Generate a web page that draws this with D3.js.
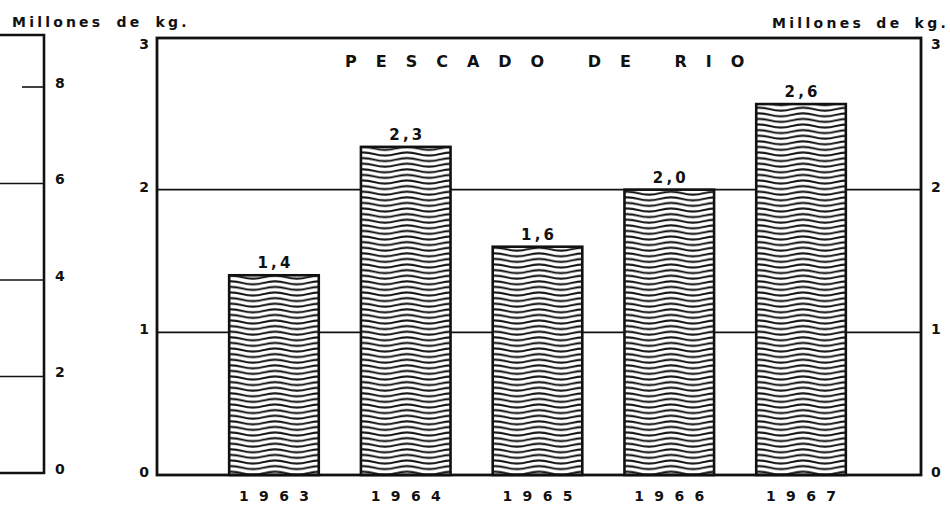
<!DOCTYPE html>
<html>
<head>
<meta charset="utf-8">
<script src="https://cdn.jsdelivr.net/npm/d3@7/dist/d3.min.js"></script>
<style>
  body { margin: 0; background: #fff; }
  svg { display: block; }
  text { font-family: "DejaVu Sans", sans-serif; font-weight: bold; fill: #111; }
</style>
</head>
<body>
<svg id="chart" width="950" height="509"></svg>
<script>
// data
const years = ['1963', '1964', '1965', '1966', '1967'];
const values = [1.4, 2.3, 1.6, 2.0, 2.6];
const valueLabels = ['1,4', '2,3', '1,6', '2,0', '2,6'];
const yTicks = [0, 1, 2, 3];
const gridTicks = [1, 2];
// bit of the previous chart cut off at the left edge
const prevTicks = [0, 2, 4, 6, 8];
const prevGrid = [2, 4, 6, 8];
const title = 'PESCADO DE RIO';
const unitLabel = 'Millones de kg.';

const frame = {left: 157, right: 921, top: 38, bottom: 475};
const ink = '#111';

const svg = d3.select('#chart');

const x = d3.scaleBand()
  .domain(years)
  .range([187, 888])
  .padding(0.32);

const y = d3.scaleLinear()
  .domain([0, 3])
  .range([frame.bottom, 47]);

const yPrev = d3.scaleLinear()
  .domain([0, 8])
  .range([473, 87]);

// wavy hatching used inside the bars
const pat = svg.append('defs').append('pattern')
  .attr('id', 'waves')
  .attr('patternUnits', 'userSpaceOnUse')
  .attr('width', 44)
  .attr('height', 5.6);
pat.append('rect').attr('width', 44).attr('height', 5.6).attr('fill', '#fff');
pat.append('path')
  .attr('d', 'M-1,3.05 L0,2.8 Q11,-0.2 22,2.8 T44,2.8 L45,2.55')
  .attr('fill', 'none')
  .attr('stroke', ink)
  .attr('stroke-width', 2);

// ---- left fragment ----
const prev = svg.append('g');
prev.selectAll('line.pgrid')
  .data(prevGrid)
  .enter()
  .append('line')
  .attr('x1', d => d === 8 ? 22 : 0)
  .attr('x2', 44)
  .attr('y1', d => yPrev(d))
  .attr('y2', d => yPrev(d))
  .attr('stroke', ink)
  .attr('stroke-width', 1.6);

prev.append('path')
  .attr('d', 'M0,35 H44 V473 H0')
  .attr('fill', 'none')
  .attr('stroke', ink)
  .attr('stroke-width', 2.6);

prev.selectAll('text')
  .data(prevTicks)
  .enter()
  .append('text')
  .attr('x', 55)
  .attr('y', d => yPrev(d) - 4)
  .attr('dy', '0.35em')
  .attr('font-size', 14)
  .text(d => d);

svg.append('text')
  .attr('x', 12)
  .attr('y', 27)
  .attr('font-size', 14)
  .attr('letter-spacing', 3.2)
  .attr('word-spacing', 5)
  .text(unitLabel);

// ---- main chart ----
svg.selectAll('line.grid')
  .data(gridTicks)
  .enter()
  .append('line')
  .attr('x1', frame.left)
  .attr('x2', frame.right)
  .attr('y1', d => y(d))
  .attr('y2', d => y(d))
  .attr('stroke', ink)
  .attr('stroke-width', 1.6);

svg.selectAll('rect.bar')
  .data(values)
  .enter()
  .append('rect')
  .attr('class', 'bar')
  .attr('x', (d, i) => x(years[i]))
  .attr('y', d => y(d))
  .attr('width', x.bandwidth())
  .attr('height', d => y(0) - y(d))
  .attr('fill', 'url(#waves)')
  .attr('stroke', ink)
  .attr('stroke-width', 2.6);

svg.append('rect')
  .attr('x', frame.left)
  .attr('y', frame.top)
  .attr('width', frame.right - frame.left)
  .attr('height', frame.bottom - frame.top)
  .attr('fill', 'none')
  .attr('stroke', ink)
  .attr('stroke-width', 2.8);

const leftAxis = svg.append('g')
  .attr('transform', `translate(${frame.left},0)`)
  .call(d3.axisLeft(y).tickValues(yTicks).tickSize(0).tickPadding(8).tickFormat(d3.format('d')));
const rightAxis = svg.append('g')
  .attr('transform', `translate(${frame.right},0)`)
  .call(d3.axisRight(y).tickValues(yTicks).tickSize(0).tickPadding(10).tickFormat(d3.format('d')));
[leftAxis, rightAxis].forEach(a => {
  a.select('.domain').remove();
  a.selectAll('text')
    .attr('font-family', null)
    .attr('font-size', 14)
    .attr('dy', '0.1em')
    .attr('fill', ink);
});

svg.selectAll('text.val')
  .data(values)
  .enter()
  .append('text')
  .attr('class', 'val')
  .attr('x', (d, i) => x(years[i]) + x.bandwidth() / 2)
  .attr('y', d => y(d) - 7)
  .attr('text-anchor', 'middle')
  .attr('font-size', 15)
  .attr('textLength', 33)
  .attr('lengthAdjust', 'spacing')
  .text((d, i) => valueLabels[i]);

svg.selectAll('text.year')
  .data(years)
  .enter()
  .append('text')
  .attr('class', 'year')
  .attr('x', d => x(d) + x.bandwidth() / 2)
  .attr('y', 501)
  .attr('text-anchor', 'middle')
  .attr('font-size', 14)
  .attr('font-weight', 'normal')
  .attr('textLength', 70)
  .attr('lengthAdjust', 'spacing')
  .text(d => d);

svg.append('text')
  .attr('x', 345)
  .attr('y', 67)
  .attr('font-size', 16)
  .attr('letter-spacing', 19)
  .text(title);

svg.append('text')
  .attr('x', 772)
  .attr('y', 28)
  .attr('font-size', 14)
  .attr('letter-spacing', 3.3)
  .attr('word-spacing', 4)
  .text(unitLabel);
</script>
</body>
</html>
